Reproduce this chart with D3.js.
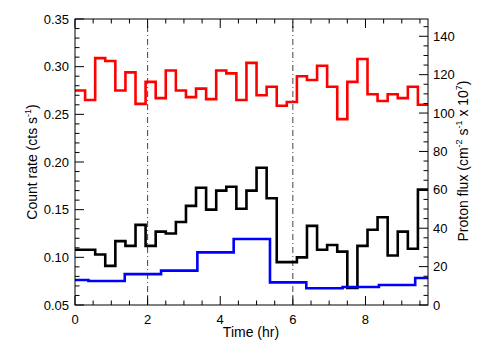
<!DOCTYPE html>
<html><head><meta charset="utf-8">
<script src="https://cdn.jsdelivr.net/npm/d3@7"></script>
<style>body{margin:0;background:#fff}svg{display:block}text{font-family:"Liberation Sans",Arial,sans-serif;fill:#000}</style>
</head><body><svg id="c" width="504" height="360"></svg>
<script>
// bin start times (hr), 1000 s bins, plus final edge
const binTimes = [0,0.278,0.556,0.833,1.111,1.389,1.667,1.944,2.222,2.5,2.778,3.056,3.333,3.611,3.889,4.167,4.444,4.722,5.0,5.278,5.556,5.833,6.111,6.389,6.667,6.944,7.222,7.5,7.778,8.056,8.333,8.611,8.889,9.167,9.444,9.722];
const redRate = [0.275,0.265,0.309,0.306,0.275,0.294,0.261,0.284,0.267,0.296,0.275,0.268,0.277,0.266,0.296,0.293,0.265,0.304,0.270,0.279,0.259,0.263,0.290,0.286,0.301,0.279,0.245,0.284,0.308,0.271,0.264,0.271,0.267,0.279,0.260];
const blackRate = [0.108,0.108,0.103,0.091,0.117,0.112,0.134,0.112,0.127,0.125,0.137,0.154,0.173,0.150,0.170,0.174,0.151,0.170,0.194,0.162,0.095,0.095,0.100,0.133,0.108,0.113,0.106,0.068,0.112,0.129,0.142,0.102,0.127,0.109,0.171];
// proton flux, 3600 s bins
const fluxEdges = [0,0.37,1.37,2.37,3.37,4.37,5.37,6.37,7.37,8.37,9.37,9.722];
const protonFlux = [13.0,12.5,16.1,17.9,27.4,34.4,11.8,8.7,9.4,10.4,14.1];
const xTicks = [0,2,4,6,8];
const leftTicks = [0.05,0.10,0.15,0.20,0.25,0.30,0.35];
const rightTicks = [0,20,40,60,80,100,120,140];
const markTimes = [2,6];

const L=75,R=428,T=19,B=305;
const svg=d3.select("#c");
const x=d3.scaleLinear().domain([0,9.722]).range([L,R]);
const yL=d3.scaleLinear().domain([0.05,0.35]).range([B,T]);
const yR=d3.scaleLinear().domain([0,149]).range([B,T]);

const g=svg.append("g");
markTimes.forEach(t=>{
  g.append("line").attr("x1",x(t)).attr("x2",x(t)).attr("y1",B).attr("y2",T)
   .attr("stroke","#444").attr("stroke-width",1).attr("stroke-dasharray","6,3,1,3");
});
function stepPts(edges, vals){
  const p=vals.map((v,i)=>[edges[i],v]);
  p.push([edges[vals.length],vals[vals.length-1]]);
  return p;
}
const lineL=d3.line().x(d=>x(d[0])).y(d=>yL(d[1])).curve(d3.curveStepAfter);
const lineR=d3.line().x(d=>x(d[0])).y(d=>yR(d[1])).curve(d3.curveStepAfter);
g.append("path").attr("d",lineL(stepPts(binTimes,redRate))).attr("fill","none").attr("stroke","#f00").attr("stroke-width",2.6);
g.append("path").attr("d",lineL(stepPts(binTimes,blackRate))).attr("fill","none").attr("stroke","#000").attr("stroke-width",2.6);
g.append("path").attr("d",lineR(stepPts(fluxEdges,protonFlux))).attr("fill","none").attr("stroke","#00f").attr("stroke-width",2.6);

svg.append("rect").attr("x",L).attr("y",T).attr("width",R-L).attr("height",B-T).attr("fill","none").attr("stroke","#000").attr("stroke-width",1);

const fs=13, tfs=14;
const ax=svg.append("g");
function tick(x1,y1,x2,y2){ax.append("line").attr("x1",x1).attr("y1",y1).attr("x2",x2).attr("y2",y2).attr("stroke","#000").attr("stroke-width",1);}
d3.range(0,9.72,0.5).forEach(t=>{
  const major=xTicks.includes(t); const len=major?9:4.5;
  tick(x(t),B,x(t),B-len); tick(x(t),T,x(t),T+len);
});
xTicks.forEach(t=>ax.append("text").attr("x",x(t)).attr("y",324).attr("text-anchor","middle").attr("font-size",fs).text(t));
d3.range(0,31).forEach(i=>{
  const v=0.05+i*0.01; const major=i%5===0; const len=major?9:4.5;
  tick(L,yL(v),L+len,yL(v));
});
leftTicks.forEach(v=>ax.append("text").attr("x",69).attr("y",yL(v)+4.5).attr("text-anchor","end").attr("font-size",fs).text(v.toFixed(2)));
d3.range(0,146,5).forEach(v=>{
  const major=v%20===0; const len=major?9:4.5;
  tick(R,yR(v),R-len,yR(v));
});
rightTicks.forEach(v=>ax.append("text").attr("x",433).attr("y",yR(v)+4.5).attr("text-anchor","start").attr("font-size",fs).text(v));

svg.append("text").attr("x",251).attr("y",337).attr("text-anchor","middle").attr("font-size",tfs).text("Time (hr)");
const lt=svg.append("text").attr("transform","translate(37,162) rotate(-90)").attr("text-anchor","middle").attr("font-size",tfs);
lt.append("tspan").text("Count rate (cts  s");
lt.append("tspan").attr("font-size",9).attr("dy",-6).text("-1");
lt.append("tspan").attr("dy",6).text(")");
const rt=svg.append("text").attr("transform","translate(468,161) rotate(-90)").attr("text-anchor","middle").attr("font-size",tfs);
rt.append("tspan").text("Proton flux (cm");
rt.append("tspan").attr("font-size",9).attr("dy",-6).text("-2");
rt.append("tspan").attr("dy",6).text(" s");
rt.append("tspan").attr("font-size",9).attr("dy",-6).text("-1");
rt.append("tspan").attr("dy",6).text(" x 10");
rt.append("tspan").attr("font-size",9).attr("dy",-6).text("7");
rt.append("tspan").attr("dy",6).text(")");
</script></body></html>
